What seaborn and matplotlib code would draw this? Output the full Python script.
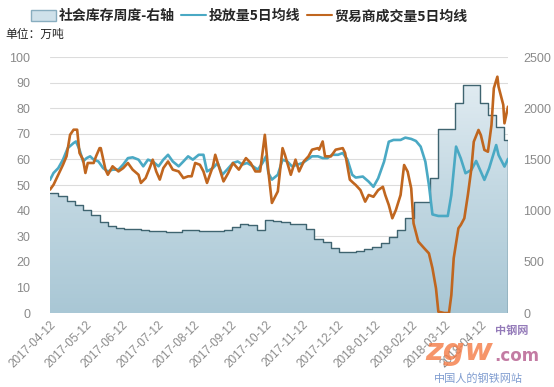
import numpy as np
import pandas as pd
import matplotlib
matplotlib.use('Agg')
import matplotlib.pyplot as plt
import matplotlib.dates as mdates
from matplotlib.ticker import MultipleLocator
from matplotlib.patches import Patch
from matplotlib.lines import Line2D
from matplotlib.colors import LinearSegmentedColormap
import seaborn as sns

# ---------------- data ----------------
series_names = ['社会库存周度-右轴', '投放量5日均线', '贸易商成交量5日均线']
unit_label = '单位：万吨'

inv_start = '2017-04-12'
inv_end = '2018-05-05'
inventory = [1175, 1140, 1090, 1050, 1010, 960, 890, 845, 830, 825,
             818, 812, 805, 800, 795, 795, 815, 810, 805, 797,
             805, 815, 842, 870, 862, 812, 907, 895, 888, 870,
             865, 820, 725, 698, 638, 600, 600, 605, 625, 648,
             682, 745, 812, 928, 1088, 1088, 1315, 1798, 1798, 2048,
             2225, 2225, 2050, 1932, 1812, 1690]

release_dates = ['2017-04-12', '2017-04-15', '2017-04-19', '2017-04-23', '2017-04-27', '2017-05-02',
                 '2017-05-04', '2017-05-07', '2017-05-10', '2017-05-13', '2017-05-16', '2017-05-19',
                 '2017-05-23', '2017-05-27', '2017-05-31', '2017-06-04', '2017-06-09', '2017-06-13',
                 '2017-06-17', '2017-06-21', '2017-06-26', '2017-06-30', '2017-07-04', '2017-07-08',
                 '2017-07-13', '2017-07-17', '2017-07-21', '2017-07-25', '2017-07-30', '2017-08-03',
                 '2017-08-07', '2017-08-11', '2017-08-16', '2017-08-20', '2017-08-23', '2017-08-28',
                 '2017-09-01', '2017-09-05', '2017-09-09', '2017-09-14', '2017-09-18', '2017-09-22',
                 '2017-09-26', '2017-10-01', '2017-10-05', '2017-10-09', '2017-10-12', '2017-10-14',
                 '2017-10-17', '2017-10-22', '2017-10-26', '2017-10-30', '2017-11-03', '2017-11-08',
                 '2017-11-12', '2017-11-16', '2017-11-20', '2017-11-25', '2017-11-29', '2017-12-03',
                 '2017-12-07', '2017-12-12', '2017-12-16', '2017-12-20', '2017-12-24', '2017-12-27',
                 '2018-01-02', '2018-01-07', '2018-01-11', '2018-01-15', '2018-01-20', '2018-01-24',
                 '2018-01-28', '2018-02-03', '2018-02-07', '2018-02-12', '2018-02-16', '2018-02-20',
                 '2018-02-24', '2018-02-27', '2018-03-02', '2018-03-07', '2018-03-15', '2018-03-18',
                 '2018-03-22', '2018-03-26', '2018-03-30', '2018-04-04', '2018-04-08', '2018-04-12',
                 '2018-04-15', '2018-04-19', '2018-04-25', '2018-04-27', '2018-05-02', '2018-05-05']
release = [52, 54.7, 56.6, 59.9, 64.4, 66.4,
           67, 63.8, 59.2, 60.5, 61.2, 59.9,
           59.2, 56.6, 55.3, 56, 56, 58,
           60.5, 60.8, 59.9, 57.3, 59.9, 59.2,
           57.3, 59.9, 61.8, 59.2, 57.3, 59.2,
           61.2, 59.9, 61.8, 61.8, 55.3, 56.6,
           58.6, 54, 56, 58.6, 59.2, 58,
           58.6, 57.3, 56, 58.6, 61.2, 54.7,
           52.1, 54, 59.9, 59.2, 57.3, 58,
           58.6, 59.9, 61.2, 61.2, 60.5, 60.5,
           61.8, 61.8, 62.5, 59.9, 54, 52.9,
           53.3, 51.3, 49.3, 52.6, 59.1, 66.9,
           67.6, 67.6, 68.5, 68, 67.2, 65,
           59.1, 50, 38.5, 37.9, 37.9, 46.1,
           65, 60.4, 54.6, 55.9, 59.4, 55.2,
           52, 56.5, 65.6, 61.7, 57.2, 60.2]

trade_dates = ['2017-04-12', '2017-04-15', '2017-04-19', '2017-04-23', '2017-04-26', '2017-04-29',
               '2017-05-02', '2017-05-05', '2017-05-07', '2017-05-10', '2017-05-12', '2017-05-14',
               '2017-05-19', '2017-05-21', '2017-05-24', '2017-05-25', '2017-05-29', '2017-05-31',
               '2017-06-04', '2017-06-09', '2017-06-13', '2017-06-17', '2017-06-21', '2017-06-26',
               '2017-06-28', '2017-07-02', '2017-07-06', '2017-07-08', '2017-07-11', '2017-07-14',
               '2017-07-17', '2017-07-21', '2017-07-25', '2017-07-30', '2017-08-03', '2017-08-07',
               '2017-08-10', '2017-08-13', '2017-08-17', '2017-08-20', '2017-08-23', '2017-08-28',
               '2017-08-30', '2017-09-02', '2017-09-06', '2017-09-10', '2017-09-14', '2017-09-19',
               '2017-09-25', '2017-09-29', '2017-10-03', '2017-10-07', '2017-10-11', '2017-10-14',
               '2017-10-17', '2017-10-22', '2017-10-26', '2017-10-28', '2017-11-02', '2017-11-06',
               '2017-11-09', '2017-11-13', '2017-11-17', '2017-11-20', '2017-11-25', '2017-11-26',
               '2017-11-29', '2017-12-01', '2017-12-06', '2017-12-10', '2017-12-16', '2017-12-18',
               '2017-12-22', '2017-12-25', '2017-12-27', '2017-12-31', '2018-01-04', '2018-01-07',
               '2018-01-11', '2018-01-15', '2018-01-19', '2018-01-21', '2018-01-24', '2018-01-27',
               '2018-01-30', '2018-02-03', '2018-02-06', '2018-02-09', '2018-02-12', '2018-02-14',
               '2018-02-18', '2018-02-23', '2018-02-27', '2018-03-02', '2018-03-05', '2018-03-07',
               '2018-03-12', '2018-03-16', '2018-03-18', '2018-03-20', '2018-03-24', '2018-03-26',
               '2018-03-29', '2018-04-01', '2018-04-04', '2018-04-06', '2018-04-10', '2018-04-12',
               '2018-04-15', '2018-04-18', '2018-04-21', '2018-04-23', '2018-04-26', '2018-04-27',
               '2018-05-01', '2018-05-02', '2018-05-05']
trade = [48.2, 50.1, 54, 57.9, 61.2, 69.6,
         71.6, 71.6, 62.5, 59.9, 54.7, 58.6,
         58.6, 61.2, 64.4, 64.4, 56, 54,
         57.3, 55.3, 56.6, 58.6, 56, 54,
         50.8, 52.7, 57.3, 59.9, 55.3, 52.1,
         56.6, 59.2, 56, 55.3, 52.7, 53.4,
         53.4, 58.6, 57.9, 55.3, 50.8, 57.3,
         61.8, 57.3, 51.4, 54.7, 58.6, 56,
         60.5, 58.6, 55.3, 55.3, 69.6, 55.3,
         43, 47.5, 64.4, 61.8, 54, 59.9,
         55.3, 59.2, 61.2, 63.8, 64.4, 63.8,
         67, 61.2, 61.2, 63.8, 64.4, 62.5,
         52.1, 50.8, 50, 48, 43.5, 46.1,
         45.4, 48, 49.3, 46.1, 42.2, 37,
         40.2, 46.1, 57.8, 55.2, 48.7, 35,
         27.9, 25.3, 23.3, 17.5, 9.6, 0.5,
         0, 0, 7, 21.4, 33.1, 34.4,
         37, 46.1, 56.5, 66.9, 71.5, 69.5,
         63.7, 63, 73.4, 87.8, 92.3, 88.4,
         81.3, 74.1, 80.6]

# ---------------- style ----------------
sns.set_theme(style='white')
plt.rcParams['font.family'] = ['Noto Sans CJK SC', 'DejaVu Sans']

C_REL = '#4aa9c4'
C_TRD = '#c0661f'
C_EDGE = '#3f6470'
TICK_C = '#8a8a8a'

W, H = 554, 387
fig = plt.figure(figsize=(W / 100, H / 100), dpi=100)
ax = fig.add_axes([50 / W, 1 - 313 / H, (508 - 50) / W, (313 - 57) / H])
ax2 = ax.twinx()

# ---------------- inventory area (right axis) ----------------
inv_dates = list(pd.date_range(inv_start, periods=len(inventory), freq='7D')) + [pd.Timestamp(inv_end)]
inv_vals = inventory + [inventory[-1]]
inv_df = pd.DataFrame({'date': inv_dates, 'val': inv_vals})

poly = ax2.fill_between(inv_df['date'], 0, inv_df['val'], step='post',
                        facecolor='none', linewidth=0, zorder=2)
x0 = mdates.date2num(pd.Timestamp(inv_start))
x1 = mdates.date2num(pd.Timestamp(inv_end))
cmap = LinearSegmentedColormap.from_list('g', ['#a9c7d5', '#c4d9e3', '#e8f0f5'])
grad = np.linspace(0, 1, 256).reshape(-1, 1)
im = ax2.imshow(grad, extent=[x0, x1, 0, 2500], origin='lower', aspect='auto',
                cmap=cmap, zorder=1.5, interpolation='bicubic')
im.set_clip_path(poly.get_paths()[0], transform=poly.get_transform())

sns.lineplot(data=inv_df, x='date', y='val', ax=ax2, drawstyle='steps-post',
             color=C_EDGE, linewidth=1.0, estimator=None, zorder=3)
ax2.vlines(pd.Timestamp(inv_end), 0, inventory[-1], color=C_EDGE, linewidth=1.0, zorder=3)

ax2.set_ylim(0, 2500)
ax2.yaxis.set_major_locator(MultipleLocator(500))
ax2.yaxis.set_minor_locator(MultipleLocator(250))
ax2.grid(which='both', axis='y', color='#dcdcdc', linewidth=0.8)
ax2.grid(axis='x', visible=False)
ax2.set_axisbelow(True)
ax2.set_ylabel('')
ax2.tick_params(axis='y', which='both', length=0, pad=11, labelsize=9, labelcolor=TICK_C)

# ---------------- lines (left axis) ----------------
rel_df = pd.DataFrame({'date': pd.to_datetime(release_dates), 'val': release})
trd_df = pd.DataFrame({'date': pd.to_datetime(trade_dates), 'val': trade})
sns.lineplot(data=rel_df, x='date', y='val', ax=ax, color=C_REL, linewidth=1.9,
             estimator=None, zorder=4)
sns.lineplot(data=trd_df, x='date', y='val', ax=ax, color=C_TRD, linewidth=1.9,
             estimator=None, zorder=5)

ax.set_zorder(ax2.get_zorder() + 1)
ax.patch.set_visible(False)
ax.grid(False)
ax.set_ylim(0, 100)
ax.yaxis.set_major_locator(MultipleLocator(10))
ax.set_xlim(pd.Timestamp(inv_start), pd.Timestamp(inv_end))
ax.set_xlabel('')
ax.set_ylabel('')
ax.tick_params(axis='y', length=0, pad=14, labelsize=9, labelcolor=TICK_C)

ax.xaxis.set_major_locator(mdates.MonthLocator(bymonthday=12))
ax.xaxis.set_major_formatter(mdates.DateFormatter('%Y-%m-%d'))
ax.tick_params(axis='x', length=0, pad=4, labelsize=8.5, labelcolor=TICK_C)
for lab in ax.get_xticklabels():
    lab.set_rotation(45)
    lab.set_ha('right')
    lab.set_rotation_mode('anchor')
for lab in ax.get_yticklabels() + ax2.get_yticklabels():
    lab.set_family(['Liberation Sans', 'DejaVu Sans'])
for lab in ax.get_xticklabels():
    lab.set_family(['Liberation Sans', 'DejaVu Sans'])

for a in (ax, ax2):
    for s in a.spines.values():
        s.set_visible(False)

# ---------------- legend & texts ----------------
handles = [Patch(facecolor='#cfe1ea', edgecolor='#88adbf', linewidth=1.0),
           Line2D([], [], color=C_REL, linewidth=1.5),
           Line2D([], [], color=C_TRD, linewidth=1.5)]
fig.legend(handles, series_names, loc='upper left', bbox_to_anchor=(23 / W, 1 - 1 / H),
           ncol=3, frameon=False, handlelength=1.8, handleheight=0.8, handletextpad=0.15,
           columnspacing=0.5, borderaxespad=0.2,
           prop={'family': ['Noto Sans CJK SC', 'DejaVu Sans'], 'weight': 'bold', 'size': 10})
fig.text(5 / W, 1 - 34 / H, unit_label, fontsize=8.5, color='#222222', va='center', ha='left')

# watermark
fig.text(425 / W, 1 - 352 / H, 'zgw', fontsize=22, color='#f47b45', fontweight='bold',
         fontstyle='italic', alpha=0.8, va='center', ha='left', family='DejaVu Sans')
fig.text(494 / W, 1 - 356 / H, '.com', fontsize=12, color='#b45a8c', fontweight='bold',
         alpha=0.8, va='center', ha='left', family='DejaVu Sans')
fig.text(512 / W, 1 - 330 / H, '中钢网', fontsize=8, color='#7a5aa8', fontweight='bold',
         alpha=0.8, va='center', ha='center')
fig.text(478 / W, 1 - 378 / H, '中国人的钢铁网站', fontsize=8, color='#6a8cc8',
         alpha=0.85, va='center', ha='center')

fig.savefig('out.png', dpi=100)
